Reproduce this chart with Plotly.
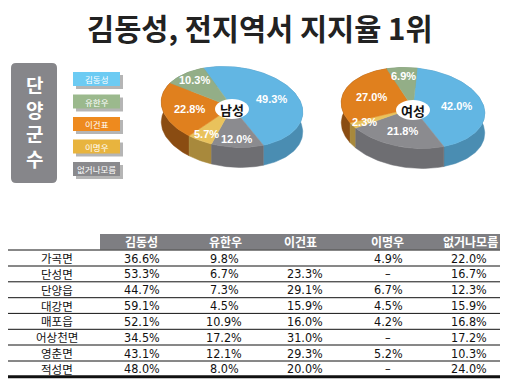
import math
import plotly.graph_objects as go

# ---------------- data ----------------
title_text = "김동성, 전지역서 지지율 1위"
region_label = "단양군수"
candidates = ["김동성", "유한우", "이건표", "이명우", "없거나모름"]
male_share = [49.3, 10.3, 22.8, 5.7, 12.0]
female_share = [42.0, 6.9, 27.0, 2.3, 21.8]
pie_names = ["남성", "여성"]
# clockwise drawing order of the slices (indices into candidates)
pie_order = [0, 4, 3, 2, 1]

towns = ["가곡면", "단성면", "단양읍", "대강면", "매포읍", "어상천면", "영춘면", "적성면"]
kim = [36.6, 53.3, 44.7, 59.1, 52.1, 34.5, 43.1, 48.0]
yoo = [9.8, 6.7, 7.3, 4.5, 10.9, 17.2, 12.1, 8.0]
lee_g = ["", 23.3, 29.1, 15.9, 16.0, 31.0, 29.3, 20.0]   # "" = blank cell
lee_m = [4.9, None, 6.7, 4.5, 4.2, None, 5.2, None]      # None = dash
unknown = [22.0, 16.7, 12.3, 15.9, 16.8, 17.2, 10.3, 24.0]
table_cols = [kim, yoo, lee_g, lee_m, unknown]

# ---------------- styles ----------------
top_colors = ["#62b6e3", "#93ae87", "#e0801e", "#e9c25c", "#8b8b8f"]
side_colors = ["#4a8db2", "#6f8a66", "#8a4c12", "#a8893c", "#6e6e72"]
legend_colors = ["#6ccbf3", "#9bb98d", "#ee8a1e", "#e8b43e", "#8a8a8d"]
KR = "Noto Sans CJK KR"
NARROW = "Liberation Sans Narrow, Arial Narrow, DejaVu Sans Condensed, sans-serif"

W, H = 517, 386
fig = go.Figure()
shapes = []
annots = []

# ---------------- pies (3D ellipse look) ----------------
pie_geom = [dict(cx=232, cy=107, rx=71, ry=40, start=-27),
            dict(cx=413, cy=108, rx=72, ry=40, start=0)]
TILT = 6.0
DEPTH = 20


def ell_pt(g, t_deg, dy=0.0):
    t = math.radians(t_deg)
    x = g["rx"] * math.sin(t)
    y = -g["ry"] * math.cos(t)
    a = math.radians(TILT)
    xr = x * math.cos(a) - y * math.sin(a)
    yr = x * math.sin(a) + y * math.cos(a)
    return g["cx"] + xr, g["cy"] + yr + dy


def arc(g, a0, a1, dy=0.0):
    n = max(4, int(abs(a1 - a0) / 2))
    return [ell_pt(g, a0 + (a1 - a0) * i / n, dy) for i in range(n + 1)]


for pie_idx, shares in enumerate([male_share, female_share]):
    g = pie_geom[pie_idx]
    total = sum(shares)
    slices = []
    ang = g["start"]
    for ci in pie_order:
        span = shares[ci] / total * 360.0
        slices.append((ci, ang, ang + span))
        ang += span
    # sides, back to front
    side_polys = []
    for ci, a0, a1 in slices:
        top = arc(g, a0, a1)
        bot = arc(g, a0, a1, DEPTH)
        poly = top + bot[::-1] + [top[0]]
        meany = sum(p[1] for p in top) / len(top)
        side_polys.append((meany, ci, poly))
    side_polys.sort(key=lambda s: s[0])
    for _, ci, poly in side_polys:
        fig.add_trace(go.Scatter(
            x=[p[0] for p in poly], y=[p[1] for p in poly], mode="lines",
            fill="toself", fillcolor=side_colors[ci],
            line=dict(color=side_colors[ci], width=0.5),
            hoverinfo="skip", showlegend=False))
    # top faces
    for ci, a0, a1 in slices:
        pts = [(g["cx"], g["cy"])] + arc(g, a0, a1) + [(g["cx"], g["cy"])]
        fig.add_trace(go.Scatter(
            x=[p[0] for p in pts], y=[p[1] for p in pts], mode="lines",
            fill="toself", fillcolor=top_colors[ci],
            line=dict(color=top_colors[ci], width=0.5),
            hoverinfo="skip", showlegend=False))
    # slice labels
    for ci, a0, a1 in slices:
        f = 0.62 if shares[ci] >= 20 else 0.8
        mid = (a0 + a1) / 2
        sub = dict(cx=g["cx"], cy=g["cy"], rx=g["rx"] * f, ry=g["ry"] * f)
        x, y = ell_pt(sub, mid)
        annots.append(dict(x=x, y=y, text=f"<b>{shares[ci]:.1f}%</b>",
                           showarrow=False, xref="x", yref="y",
                           font=dict(family="Liberation Sans, Arial, sans-serif",
                                     size=11, color="white")))
    # centre label
    cx, cy = g["cx"], g["cy"] + 2
    shapes.append(dict(type="circle", xref="x", yref="y", x0=cx - 17, x1=cx + 17,
                       y0=cy - 10, y1=cy + 10, fillcolor="white",
                       line=dict(width=0)))
    annots.append(dict(x=cx, y=cy, text=f"<b>{pie_names[pie_idx]}</b>",
                       showarrow=False, xref="x", yref="y",
                       font=dict(family=KR, size=13, color="#111")))

# ---------------- title ----------------
annots.append(dict(x=260, y=27, text=f"<b>{title_text}</b>", showarrow=False,
                   xref="x", yref="y",
                   font=dict(family=KR, size=29.5, color="#222")))

# ---------------- left vertical label box ----------------
x0, x1, y0, y1, r = 11, 57, 63, 183, 5
shapes.append(dict(type="path", xref="x", yref="y", fillcolor="#86868a",
                   line=dict(width=0),
                   path=(f"M{x0+r},{y0} L{x1-r},{y0} Q{x1},{y0} {x1},{y0+r} "
                         f"L{x1},{y1-r} Q{x1},{y1} {x1-r},{y1} L{x0+r},{y1} "
                         f"Q{x0},{y1} {x0},{y1-r} L{x0},{y0+r} Q{x0},{y0} {x0+r},{y0} Z")))
annots.append(dict(x=34, y=121, text="<b>" + "<br>".join(region_label) + "</b>",
                   showarrow=False, xref="x", yref="y", align="center",
                   font=dict(family=KR, size=19, color="white")))

# ---------------- legend boxes ----------------
for i, name in enumerate(candidates):
    ly = 72 + i * 22.5
    shapes.append(dict(type="rect", xref="x", yref="y", x0=76, x1=123,
                       y0=ly + 3, y1=ly + 17, fillcolor="rgba(90,90,90,0.45)",
                       line=dict(width=0)))
    shapes.append(dict(type="rect", xref="x", yref="y", x0=73, x1=120,
                       y0=ly, y1=ly + 14, fillcolor=legend_colors[i],
                       line=dict(width=0)))
    annots.append(dict(x=96.5, y=ly + 7, text=name, showarrow=False,
                       xref="x", yref="y",
                       font=dict(family=KR, size=8.5, color="white")))

# ---------------- table ----------------
col_x = [142, 224, 305, 388, 469]
head_x = [141, 225, 300, 387, 470]
row_label_x = 57
line_y = [250, 266, 281.8, 297.7, 313.4, 329.3, 345, 361, 376.8]
tx0, tx1 = 8, 500
shapes.append(dict(type="rect", xref="x", yref="y", x0=100, x1=tx1,
                   y0=234, y1=249.5, fillcolor="#7e7e82", line=dict(width=0)))
for i, name in enumerate(candidates):
    annots.append(dict(x=head_x[i], y=241.5, text=f"<b>{name}</b>", showarrow=False,
                       xref="x", yref="y",
                       font=dict(family=KR, size=12, color="white")))
for k, ly in enumerate(line_y):
    last = k == len(line_y) - 1
    shapes.append(dict(type="line", xref="x", yref="y", x0=tx0, x1=tx1,
                       y0=ly, y1=ly,
                       line=dict(color="#111", width=3 if last else 1)))


def fmt(v):
    if v is None:
        return "–"
    if v == "":
        return ""
    return f"{v:.1f}%"


for r_i, town in enumerate(towns):
    ry = (line_y[r_i] + line_y[r_i + 1]) / 2
    annots.append(dict(x=row_label_x, y=ry, text=town, showarrow=False,
                       xref="x", yref="y",
                       font=dict(family=KR, size=11.5, color="#111")))
    for c_i, col in enumerate(table_cols):
        txt = fmt(col[r_i])
        if txt:
            annots.append(dict(x=col_x[c_i], y=ry, text=txt, showarrow=False,
                               xref="x", yref="y",
                               font=dict(family=NARROW, size=12.5, color="#111")))

fig.update_layout(
    width=W, height=H, margin=dict(l=0, r=0, t=0, b=0),
    paper_bgcolor="white", plot_bgcolor="white",
    xaxis=dict(range=[0, W], visible=False, fixedrange=True),
    yaxis=dict(range=[H, 0], visible=False, fixedrange=True),
    shapes=shapes, annotations=annots, showlegend=False,
)
fig.write_html("out.html", config={"displayModeBar": False},
               post_script="document.body.style.margin='0';")
